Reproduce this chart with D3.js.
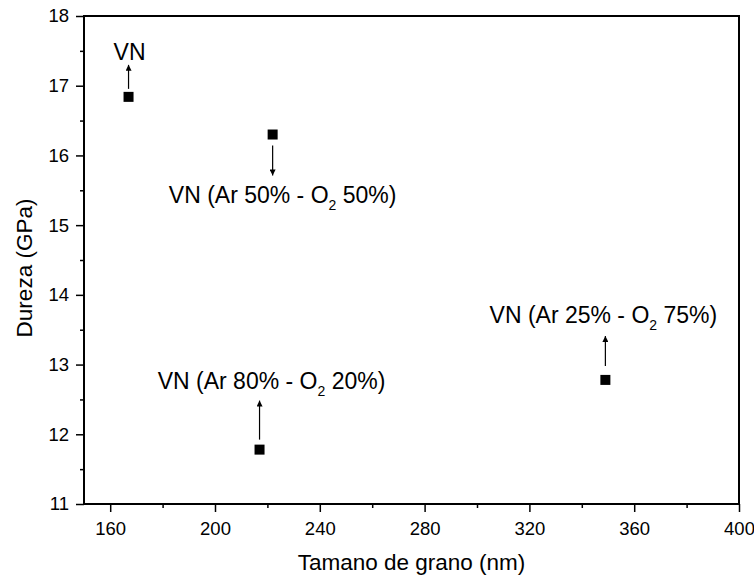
<!DOCTYPE html>
<html>
<head>
<meta charset="utf-8">
<script src="https://cdn.jsdelivr.net/npm/d3@7"></script>
<style>
  body { margin: 0; background: #fff; }
  text { font-family: "Liberation Sans", Arial, sans-serif; fill: #000; }
</style>
</head>
<body>
<div id="my_dataviz"></div>
<script>
// grain size (nm) vs hardness (GPa)
const grainSize = [167, 222, 217, 349];
const hardness = [16.84, 16.30, 11.78, 12.78];
const pointLabels = ["VN", "VN (Ar 50% - O₂ 50%)", "VN (Ar 80% - O₂ 20%)", "VN (Ar 25% - O₂ 75%)"];
const arrowDir = ["up", "down", "up", "up"];

const xTicks = [160, 200, 240, 280, 320, 360, 400];
const yTicks = [11, 12, 13, 14, 15, 16, 17, 18];

// label placement, pixels from the marker: [text dx, arrow tail, arrow tip, text baseline]
const labelLayout = [
  [1, 8, 32, 37],
  [10, 11, 41, 68],
  [12, 10, 49, 61],
  [-2, 14, 44, 57]
];

const margin = {top: 16, right: 15, bottom: 73, left: 84},
    width = 754 - margin.left - margin.right,
    height = 577 - margin.top - margin.bottom;

const svg = d3.select("#my_dataviz")
  .append("svg")
    .attr("width", 754)
    .attr("height", 577)
  .append("g")
    .attr("transform", `translate(${margin.left},${margin.top})`);

const x = d3.scaleLinear().domain([150, 400]).range([0, width]);
const y = d3.scaleLinear().domain([11, 18]).range([height, 0]);

// minor ticks
svg.append("g")
  .attr("transform", `translate(0, ${height})`)
  .call(d3.axisBottom(x).tickValues(d3.range(180, 400, 40)).tickSize(4).tickFormat("").tickSizeOuter(0))
  .call(g => g.select(".domain").remove())
  .selectAll("line").attr("stroke-width", 1.5);

svg.append("g")
  .call(d3.axisLeft(y).tickValues(d3.range(11.5, 18, 1)).tickSize(4).tickFormat("").tickSizeOuter(0))
  .call(g => g.select(".domain").remove())
  .selectAll("line").attr("stroke-width", 1.5);

// major ticks
const xAxis = svg.append("g")
  .attr("transform", `translate(0, ${height})`)
  .call(d3.axisBottom(x).tickValues(xTicks).tickFormat(d3.format("d")).tickSize(8).tickPadding(10).tickSizeOuter(0));
xAxis.select(".domain").remove();
xAxis.selectAll("line").attr("stroke-width", 1.5);
xAxis.selectAll("text").style("font-size", "18.5px").attr("font-family", null);

const yAxis = svg.append("g")
  .call(d3.axisLeft(y).tickValues(yTicks).tickFormat(d3.format("d")).tickSize(8).tickPadding(7).tickSizeOuter(0));
yAxis.select(".domain").remove();
yAxis.selectAll("line").attr("stroke-width", 1.5);
yAxis.selectAll("text").style("font-size", "18.5px").attr("font-family", null);

// frame
svg.append("rect")
  .attr("width", width)
  .attr("height", height)
  .attr("fill", "none")
  .attr("stroke", "black")
  .attr("stroke-width", 2);

// axis titles
svg.append("text")
  .attr("x", width / 2)
  .attr("y", height + 66)
  .attr("text-anchor", "middle")
  .style("font-size", "22.5px")
  .text("Tamano de grano (nm)");

svg.append("text")
  .attr("transform", `translate(${32 - margin.left}, ${height / 2 + 8}) rotate(-90)`)
  .attr("text-anchor", "middle")
  .style("font-size", "22.5px")
  .text("Dureza (GPa)");

// arrow head
svg.append("defs").append("marker")
  .attr("id", "head")
  .attr("viewBox", "0 0 10 10")
  .attr("refX", 10)
  .attr("refY", 5)
  .attr("markerWidth", 9)
  .attr("markerHeight", 6)
  .attr("markerUnits", "userSpaceOnUse")
  .attr("orient", "auto")
  .append("path")
    .attr("d", "M0,0 L10,5 L0,10 Z")
    .attr("fill", "black");

const pts = grainSize.map((g, i) => ({x: g, y: hardness[i], label: pointLabels[i], dir: arrowDir[i], lay: labelLayout[i]}));

svg.selectAll("rect.pt")
  .data(pts)
  .join("rect")
    .attr("class", "pt")
    .attr("x", d => x(d.x) - 5)
    .attr("y", d => y(d.y) - 5)
    .attr("width", 10)
    .attr("height", 10)
    .attr("fill", "black");

svg.selectAll("line.arrow")
  .data(pts)
  .join("line")
    .attr("class", "arrow")
    .attr("x1", d => x(d.x))
    .attr("x2", d => x(d.x))
    .attr("y1", d => y(d.y) + (d.dir == "up" ? -d.lay[1] : d.lay[1]))
    .attr("y2", d => y(d.y) + (d.dir == "up" ? -d.lay[2] : d.lay[2]))
    .attr("stroke", "black")
    .attr("stroke-width", 1.2)
    .attr("marker-end", "url(#head)");

const lab = svg.selectAll("text.lab")
  .data(pts)
  .join("text")
    .attr("class", "lab")
    .attr("x", d => x(d.x) + d.lay[0])
    .attr("y", d => y(d.y) + (d.dir == "up" ? -d.lay[3] : d.lay[3]))
    .attr("text-anchor", "middle")
    .style("font-size", "23px");

lab.each(function(d) {
  const parts = d.label.split("₂");
  const t = d3.select(this);
  t.append("tspan").text(parts[0]);
  if (parts.length > 1) {
    t.append("tspan").attr("dy", 7).style("font-size", "14px").text("2");
    t.append("tspan").attr("dy", -7).text(parts[1]);
  }
});
</script>
</body>
</html>
